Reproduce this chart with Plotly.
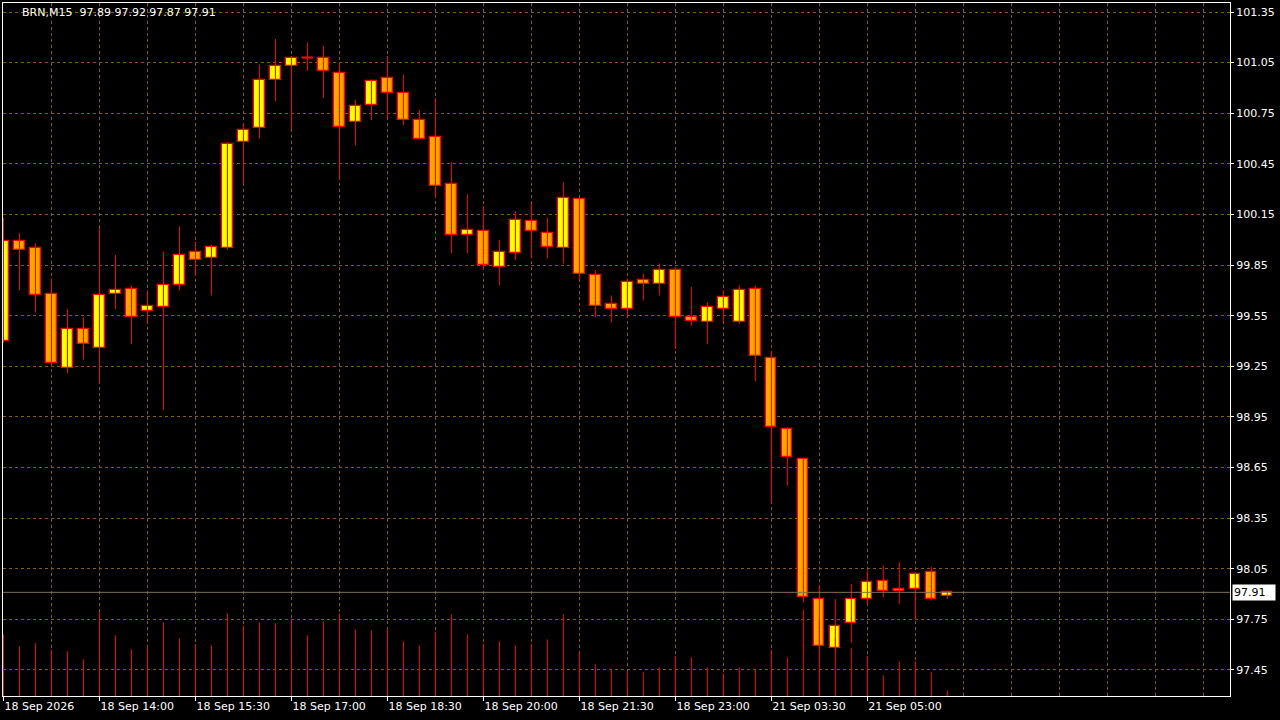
import plotly.graph_objects as go

symbol = "BRN,M15"
header_values = [97.89, 97.92, 97.87, 97.91]

opens = [99.40, 99.99, 99.95, 99.68, 99.24, 99.47, 99.36, 99.68, 99.71, 99.58,
         99.60, 99.73, 99.93, 99.89, 99.95, 100.58, 100.66, 100.95, 101.03, 101.08,
         101.08, 100.99, 100.70, 100.80, 100.96, 100.87, 100.71, 100.61, 100.33, 100.03,
         100.05, 99.84, 99.92, 100.11, 100.04, 99.95, 100.24, 99.79, 99.62, 99.59,
         99.76, 99.74, 99.82, 99.54, 99.51, 99.59, 99.51, 99.71, 99.30, 98.88,
         98.70, 97.87, 97.58, 97.73, 97.87, 97.98, 97.93, 97.93, 98.03, 97.89]
highs = [100.13, 100.04, 99.98, 99.77, 99.59, 99.54, 100.07, 99.91, 99.73, 99.70,
         99.93, 100.08, 99.99, 99.97, 100.58, 100.69, 101.04, 101.19, 101.09, 101.17,
         101.15, 101.05, 100.83, 100.95, 101.09, 100.98, 100.77, 100.84, 100.46, 100.27,
         100.20, 100.00, 100.17, 100.22, 100.13, 100.34, 100.25, 99.82, 99.67, 99.77,
         99.80, 99.86, 99.84, 99.72, 99.63, 99.70, 99.73, 99.73, 99.34, 98.89,
         98.70, 97.95, 97.87, 97.96, 98.04, 98.07, 98.09, 98.03, 98.06, 97.92]
lows = [99.39, 99.70, 99.57, 99.26, 99.21, 99.29, 99.15, 99.59, 99.38, 99.51,
        98.99, 99.70, 99.79, 99.67, 99.94, 100.33, 100.60, 100.82, 100.65, 101.00,
        100.84, 100.36, 100.56, 100.71, 100.72, 100.68, 100.60, 100.25, 99.92, 99.92,
        99.83, 99.73, 99.88, 99.89, 99.89, 99.86, 99.76, 99.54, 99.51, 99.54,
        99.64, 99.67, 99.35, 99.49, 99.38, 99.51, 99.50, 99.16, 98.44, 98.54,
        97.85, 97.58, 97.57, 97.61, 97.84, 97.88, 97.84, 97.75, 97.86, 97.87]
closes = [99.99, 99.94, 99.67, 99.27, 99.47, 99.38, 99.67, 99.70, 99.54, 99.61,
          99.73, 99.91, 99.88, 99.96, 100.57, 100.65, 100.95, 101.03, 101.08, 101.08,
          101.00, 100.67, 100.79, 100.94, 100.87, 100.71, 100.60, 100.32, 100.03, 100.06,
          99.85, 99.93, 100.12, 100.05, 99.96, 100.25, 99.80, 99.61, 99.59, 99.75,
          99.74, 99.82, 99.54, 99.52, 99.60, 99.66, 99.70, 99.31, 98.89, 98.71,
          97.88, 97.59, 97.71, 97.87, 97.97, 97.92, 97.92, 98.02, 97.87, 97.91]
volumes = [185, 149, 158, 139, 134, 110, 254, 182, 140, 146,
           221, 173, 156, 152, 248, 211, 221, 218, 228, 182,
           224, 248, 200, 197, 200, 164, 152, 191, 245, 185,
           158, 164, 152, 157, 170, 245, 131, 95, 82, 75,
           71, 86, 121, 116, 86, 68, 86, 82, 139, 116,
           260, 230, 173, 143, 121, 62, 104, 104, 71, 17]

tick_labels = ["18 Sep 2026", "18 Sep 14:00", "18 Sep 15:30", "18 Sep 17:00",
               "18 Sep 18:30", "18 Sep 20:00", "18 Sep 21:30", "18 Sep 23:00",
               "21 Sep 03:30", "21 Sep 05:00"]
price_ticks = [97.45, 97.75, 98.05, 98.35, 98.65, 98.95, 99.25, 99.55, 99.85,
               100.15, 100.45, 100.75, 101.05, 101.35]
last_price = 97.91

# ---- styling ----
BULL = "#FFFF00"
BEAR = "#FFA500"
OUTLINE = "#FF0000"
GRID = "rgb(140,92,8)"
FONT = "DejaVu Sans"

n = len(opens)
idx = list(range(n))
label_step = 6
grid_step = 3
x_lo = -0.03125          # half-pixel offset so 1px lines land on pixel columns
x_hi = 76.7 - 0.03125

wx, wy = [], []
for i in idx:
    wx += [i, i, None]
    wy += [lows[i], highs[i], None]

bases = [min(o, c) for o, c in zip(opens, closes)]
heights = [abs(c - o) for o, c in zip(opens, closes)]
colors = [BULL if c >= o else BEAR for o, c in zip(opens, closes)]

dx, dy = [], []
for i in idx:
    if abs(closes[i] - opens[i]) < 1e-9:
        dx += [i - 0.34, i + 0.34, None]
        dy += [opens[i], opens[i], None]

vx, vy = [], []
for i in idx:
    vx += [i, i, None]
    vy += [0, volumes[i], None]

fig = go.Figure()
fig.add_trace(go.Scatter(x=wx, y=wy, mode="lines", line=dict(color=OUTLINE, width=1),
                         hoverinfo="skip"))
fig.add_trace(go.Bar(x=idx, y=heights, base=bases, width=0.64,
                     marker=dict(color=colors, line=dict(color=OUTLINE, width=1.3))))
fig.add_trace(go.Scatter(x=dx, y=dy, mode="lines", line=dict(color=OUTLINE, width=2),
                         hoverinfo="skip"))
fig.add_trace(go.Scatter(x=vx, y=vy, mode="lines", yaxis="y2",
                         line=dict(color=OUTLINE, width=1), hoverinfo="skip"))

fig.add_shape(type="line", xref="paper", x0=0, x1=1, yref="y", y0=last_price, y1=last_price,
              line=dict(color="rgb(128,112,88)", width=1))

fig.update_layout(
    width=1280, height=720,
    margin=dict(l=3, r=50, t=3, b=24),
    paper_bgcolor="black", plot_bgcolor="black",
    showlegend=False,
    font=dict(family=FONT, size=11, color="white"),
    xaxis=dict(
        range=[x_lo, x_hi],
        tickvals=[k * label_step for k in range(len(tick_labels))],
        ticktext=tick_labels,
        ticks="outside", ticklen=4, tickcolor="white",
        ticklabelposition="outside right",
        showgrid=True, gridcolor=GRID, griddash="3px,3px", gridwidth=1,
        minor=dict(tickvals=list(range(0, int(x_hi) + 1, grid_step)),
                   showgrid=True, gridcolor=GRID, griddash="3px,3px", ticks=""),
        showline=True, linecolor="white", linewidth=1, mirror=True,
        zeroline=False, fixedrange=True,
    ),
    yaxis=dict(
        side="right",
        range=[97.2955, 101.4035],
        tickvals=price_ticks,
        ticktext=[f"{p:.2f}" for p in price_ticks],
        ticks="outside", ticklen=3, tickcolor="white",
        showgrid=True, gridcolor=GRID, griddash="3px,3px", gridwidth=1,
        showline=True, linecolor="white", linewidth=1, mirror=True,
        zeroline=False,
    ),
    yaxis2=dict(overlaying="y", range=[0, 2079], visible=False),
    bargap=0,
)

fig.add_annotation(
    xref="paper", yref="paper", x=17 / 1227, y=1, yshift=-9,
    xanchor="left", yanchor="middle", showarrow=False,
    text=symbol + "\u00a0 " + " ".join(f"{v:.2f}" for v in header_values),
    font=dict(family=FONT, size=11, color="white"),
)
fig.add_annotation(
    xref="paper", yref="y", x=1, y=last_price, xshift=2,
    xanchor="left", yanchor="middle", showarrow=False,
    text=f"{last_price:.2f}", bgcolor="white", borderpad=1, width=40, align="left",
    font=dict(family=FONT, size=11, color="black"),
)

fig.write_html("out.html", config={"displayModeBar": False},
               post_script="document.body.style.margin='0';document.body.style.overflow='hidden';")
